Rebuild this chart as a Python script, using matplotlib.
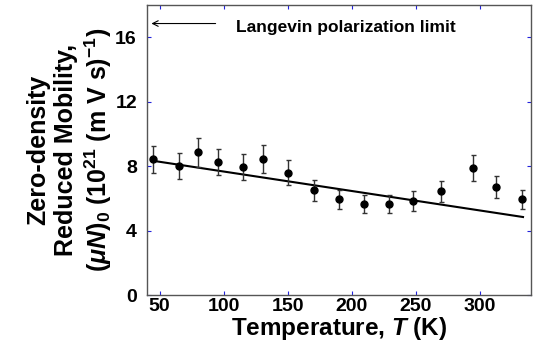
import matplotlib
matplotlib.use("Agg")
import matplotlib.pyplot as plt

# zero-density reduced mobility vs temperature
temp = [45, 65, 80, 96, 115, 131, 150, 171, 190, 210, 229, 248, 270, 295, 313, 333]
mobility = [8.42, 8.02, 8.87, 8.25, 7.96, 8.43, 7.59, 6.49, 5.93, 5.64, 5.66, 5.83, 6.43, 7.88, 6.72, 5.93]
err = [0.85, 0.80, 0.90, 0.83, 0.82, 0.86, 0.77, 0.65, 0.60, 0.58, 0.57, 0.62, 0.66, 0.81, 0.68, 0.61]

# fitted straight line
fit_temp = [45, 334]
fit_mobility = [8.33, 4.84]

langevin = 16.85

plt.rcParams['font.family'] = ['Liberation Sans', 'DejaVu Sans']
plt.rcParams['font.weight'] = 'bold'
plt.rcParams['mathtext.fontset'] = 'custom'
plt.rcParams['mathtext.rm'] = 'Liberation Sans:bold'
plt.rcParams['mathtext.it'] = 'Liberation Sans:bold:italic'
plt.rcParams['mathtext.bf'] = 'Liberation Sans:bold'

fig = plt.figure(figsize=(5.4, 3.51), dpi=100)
ax = fig.add_axes([146.7 / 540, 1 - 295 / 351, (530.7 - 146.7) / 540, 290 / 351])

ax.plot(fit_temp, fit_mobility, color='black', lw=1.5, zorder=2)
ax.errorbar(temp, mobility, yerr=err, fmt='o', color='black', ms=5,
            ecolor='#333333', elinewidth=1, capsize=1.8, capthick=1, zorder=3)

ax.annotate('', xy=(41.5, langevin), xytext=(96, langevin),
            arrowprops=dict(arrowstyle='->', color='black', lw=0.8))
ax.text(110, 16.6, 'Langevin polarization limit', fontsize=12.5, fontweight='bold',
        va='center', ha='left')

ax.set_xlim(40, 340)
ax.set_ylim(0, 18)
ax.set_xticks([50, 100, 150, 200, 250, 300])
ax.set_yticks([0, 4, 8, 12, 16])

ax.tick_params(direction='in', top=True, right=True, color='#2222dd', length=3, width=0.8,
               labelsize=14)
ax.tick_params(axis='x', pad=2)
ax.tick_params(axis='y', pad=7)
for lab in ax.get_xticklabels() + ax.get_yticklabels():
    lab.set_fontweight('bold')
for s in ax.spines.values():
    s.set_color('#555555')
    s.set_linewidth(1)

ax.set_xlabel('Temperature, $T$ (K)', fontsize=17.5, fontweight='bold', labelpad=0)
ax.set_ylabel('Zero-density\nReduced Mobility,\n$(\\mu N)_0$ (10$^{21}$ (m V s)$^{-1}$)',
              fontsize=18, fontweight='bold', linespacing=1.2, labelpad=1)

fig.savefig('out.png', dpi=100)
